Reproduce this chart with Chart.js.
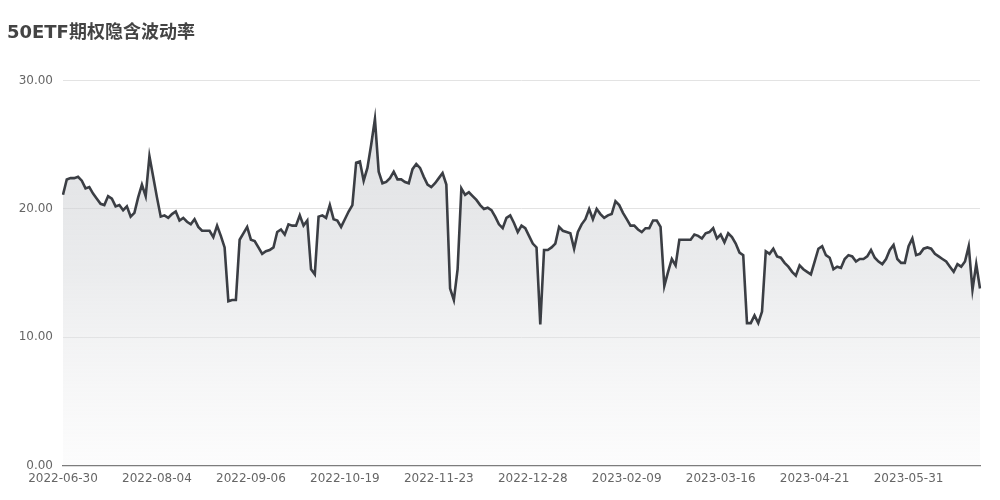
<!DOCTYPE html>
<html>
<head>
<meta charset="utf-8">
<script src="https://cdn.jsdelivr.net/npm/chart.js@4/dist/chart.umd.min.js"></script>
<style>
  html, body { margin: 0; padding: 0; background: #fff; }
  #wrap { width: 1000px; height: 500px; position: relative; }
</style>
</head>
<body>
<div id="wrap"><canvas id="c" width="1000" height="500"></canvas></div>
<script>
const chartTitle = '50ETF期权隐含波动率';
const tickLabels = ['2022-06-30','2022-08-04','2022-09-06','2022-10-19','2022-11-23','2022-12-28','2023-02-09','2023-03-16','2023-04-21','2023-05-31'];
const tickEvery = 25;
const ivValues = [
  21.1,22.3,22.4,22.4,22.5,22.2,21.6,21.7,21.2,20.8,
  20.4,20.3,21.0,20.8,20.2,20.3,19.9,20.2,19.4,19.7,
  20.9,21.9,21.0,24.1,22.5,20.9,19.4,19.5,19.3,19.6,
  19.8,19.1,19.3,19.0,18.8,19.2,18.6,18.3,18.3,18.3,
  17.8,18.7,17.9,17.0,12.8,12.9,12.9,17.6,18.1,18.6,
  17.6,17.5,17.0,16.5,16.7,16.8,17.0,18.2,18.4,18.0,
  18.8,18.7,18.7,19.5,18.7,19.1,15.3,14.9,19.4,19.5,
  19.3,20.3,19.2,19.1,18.6,19.2,19.8,20.3,23.6,23.7,
  22.2,23.2,25.0,27.0,22.9,22.0,22.1,22.4,22.9,22.3,
  22.3,22.1,22.0,23.1,23.5,23.2,22.5,21.9,21.7,22.0,
  22.4,22.8,21.9,13.8,12.9,15.3,21.6,21.1,21.3,21.0,
  20.7,20.3,20.0,20.1,19.9,19.4,18.8,18.5,19.3,19.5,
  18.9,18.2,18.7,18.5,17.9,17.3,17.0,11.0,16.8,16.8,
  17.0,17.3,18.6,18.3,18.2,18.1,16.9,18.2,18.8,19.2,
  20.0,19.2,20.0,19.6,19.3,19.5,19.6,20.6,20.3,19.7,
  19.2,18.7,18.7,18.4,18.2,18.5,18.5,19.1,19.1,18.6,
  14.0,15.1,16.1,15.6,17.6,17.6,17.6,17.6,18.0,17.9,
  17.7,18.1,18.2,18.5,17.7,18.0,17.4,18.1,17.8,17.3,
  16.6,16.4,11.1,11.1,11.7,11.1,12.0,16.7,16.5,16.9,
  16.3,16.2,15.8,15.5,15.1,14.8,15.6,15.3,15.1,14.9,
  15.9,16.9,17.1,16.4,16.2,15.3,15.5,15.4,16.1,16.4,
  16.3,15.9,16.1,16.1,16.3,16.8,16.2,15.9,15.7,16.1,
  16.8,17.2,16.1,15.8,15.8,17.1,17.7,16.4,16.5,16.9,
  17.0,16.9,16.5,16.3,16.1,15.9,15.5,15.1,15.7,15.5,
  15.9,17.1,13.7,15.7,13.8
];
const yTicks = [0, 10, 20, 30];

const categories = ivValues.map((_, i) => (i % tickEvery === 0 && tickLabels[i / tickEvery]) ? tickLabels[i / tickEvery] : '');

const ctx = document.getElementById('c').getContext('2d');
new Chart(ctx, {
  type: 'line',
  data: {
    labels: categories,
    datasets: [{
      data: ivValues,
      borderColor: '#3b3e44',
      borderWidth: 2.6,
      pointRadius: 0,
      tension: 0,
      fill: 'origin',
      backgroundColor: (c) => {
        const area = c.chart.chartArea;
        if (!area) return 'rgba(220,222,225,0.6)';
        const g = c.chart.ctx.createLinearGradient(0, area.top, 0, area.bottom);
        g.addColorStop(0, 'rgba(200,202,206,0.65)');
        g.addColorStop(0.5, 'rgba(215,217,220,0.5)');
        g.addColorStop(1, 'rgba(245,245,246,0.3)');
        return g;
      }
    }]
  },
  options: {
    responsive: false,
    animation: false,
    layout: { padding: { left: 7, right: 20, top: 0, bottom: 8 } },
    plugins: {
      legend: { display: false },
      tooltip: { enabled: false },
      title: {
        display: true,
        text: chartTitle,
        align: 'start',
        color: '#444',
        font: { family: '"DejaVu Sans", "Noto Sans CJK SC", sans-serif', size: 18, weight: 'bold' },
        padding: { top: 23, bottom: 36 }
      }
    },
    scales: {
      x: {
        grid: { display: false, drawTicks: false },
        border: { display: true, color: '#777', width: 1.2 },
        ticks: {
          autoSkip: false,
          maxRotation: 0,
          color: '#666',
          padding: 6,
          font: { family: '"DejaVu Sans", sans-serif', size: 12 }
        }
      },
      y: {
        min: 0,
        max: 30,
        afterFit: (s) => { s.width = 56; },
        afterBuildTicks: (s) => { s.ticks = yTicks.map(v => ({ value: v })); },
        grid: { color: '#e3e3e3', drawTicks: false, lineWidth: 1 },
        border: { display: false },
        ticks: {
          color: '#666',
          padding: 10,
          font: { family: '"DejaVu Sans", sans-serif', size: 12 },
          callback: (v) => Number(v).toFixed(2)
        }
      }
    }
  }
});
</script>
</body>
</html>
